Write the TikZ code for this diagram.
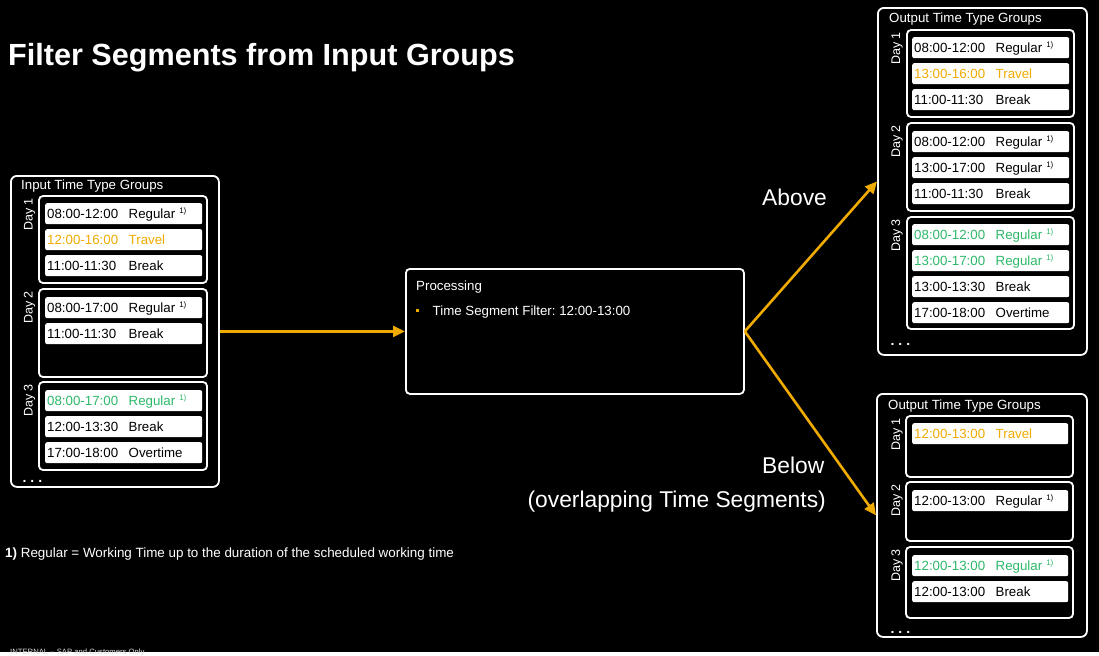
\documentclass[tikz,border=0pt]{standalone}
\usepackage{fontspec}
\setmainfont{Liberation Sans}
\usepackage{xcolor}
\usetikzlibrary{arrows.meta,positioning}
\definecolor{sapgold}{RGB}{240,171,0}
\definecolor{sapgreen}{RGB}{45,185,105}
\newcommand{\supone}{\hspace{4pt}\raisebox{0.42em}{\fontsize{8}{8}\selectfont 1)}}
\newcommand{\seg}[2]{\makebox[81.5pt][l]{#1}#2}
\frenchspacing

\begin{document}
\begin{tikzpicture}[
    x=1pt, y=-1pt,
    every node/.style={text=white, inner sep=0pt, font=\fontsize{13.3}{15}\selectfont},
    outer/.style={draw=white, line width=1.8pt, rounded corners=6pt, anchor=north west},
    grp/.style={draw=white, line width=1.8pt, rounded corners=4pt},
    row/.style={fill=white, text=black, rounded corners=2pt, anchor=north west, minimum height=21, text width=153pt, inner xsep=2pt, align=left, text height=11pt, text depth=1pt},
    daylbl/.style={rotate=90, anchor=east, font=\fontsize{12.5}{14}\selectfont},
    hdr/.style={anchor=base west},
    dots/.style={anchor=base west, font=\bfseries\fontsize{14}{14}\selectfont},
    big/.style={font=\fontsize{22.8}{26}\selectfont},
    flow/.style={draw=sapgold, line width=2.6pt, -{Triangle[length=12pt,width=11pt]}}
]

% background and page size
\fill[black] (0,0) rectangle (1099,652);

\node[anchor=base west, font=\bfseries\fontsize{30.6}{34}\selectfont] (title) at (8,65) {Filter Segments from Input Groups};

% input groups
\node[outer, minimum width=208, minimum height=311] (inbox) at (10,175) {};
\node[hdr] (inhdr) at (21,189) {Input Time Type Groups};
\draw[grp] (39,196) rectangle (207,283);
\draw[grp] (39,289) rectangle (207,377);
\draw[grp] (39,382) rectangle (207,470);
\node[daylbl] (inday1) at (29.5,198) {Day 1};
\node[daylbl] (inday2) at (29.5,291) {Day 2};
\node[daylbl] (inday3) at (29.5,384) {Day 3};
\node[row] (in11) at (45,203) {\seg{08:00-12:00}{Regular\supone}};
\node[row, text=sapgold] (in12) at (45,229) {\seg{12:00-16:00}{Travel}};
\node[row] (in13) at (45,255) {\seg{11:00-11:30}{Break}};
\node[row] (in21) at (45,297) {\seg{08:00-17:00}{Regular\supone}};
\node[row] (in22) at (45,323) {\seg{11:00-11:30}{Break}};
\node[row, text=sapgreen] (in31) at (45,390) {\seg{08:00-17:00}{Regular\supone}};
\node[row] (in32) at (45,416) {\seg{12:00-13:30}{Break}};
\node[row] (in33) at (45,442) {\seg{17:00-18:00}{Overtime}};
\node[dots] (indots) at (22.5,482) {. . .};

% processing
\node[outer, rounded corners=4pt, minimum width=338, minimum height=125] (proc) at (405,268) {};
\node[hdr] (prochdr) at (416,290) {Processing};
\node[hdr] (procitem) at (416,315) {\textcolor{sapgold}{\rule[3pt]{3pt}{3pt}}\hspace{13.5pt}Time Segment Filter: 12:00-13:00};

% output above
\node[outer, minimum width=209, minimum height=347] (outA) at (877,7) {};
\node[hdr] (outAhdr) at (889,22.5) {Output Time Type Groups};
\draw[grp] (907,30) rectangle (1074,117);
\draw[grp] (907,123) rectangle (1074,211);
\draw[grp] (907,217) rectangle (1074,329);
\node[daylbl] (aday1) at (897,32) {Day 1};
\node[daylbl] (aday2) at (897,125) {Day 2};
\node[daylbl] (aday3) at (897,219) {Day 3};
\node[row] (a11) at (912,37) {\seg{08:00-12:00}{Regular\supone}};
\node[row, text=sapgold] (a12) at (912,63) {\seg{13:00-16:00}{Travel}};
\node[row] (a13) at (912,89) {\seg{11:00-11:30}{Break}};
\node[row] (a21) at (912,131) {\seg{08:00-12:00}{Regular\supone}};
\node[row] (a22) at (912,157) {\seg{13:00-17:00}{Regular\supone}};
\node[row] (a23) at (912,183) {\seg{11:00-11:30}{Break}};
\node[row, text=sapgreen] (a31) at (912,224) {\seg{08:00-12:00}{Regular\supone}};
\node[row, text=sapgreen] (a32) at (912,250) {\seg{13:00-17:00}{Regular\supone}};
\node[row] (a33) at (912,276) {\seg{13:00-13:30}{Break}};
\node[row] (a34) at (912,302) {\seg{17:00-18:00}{Overtime}};
\node[dots] (adots) at (890.5,345) {. . .};

% output below
\node[outer, minimum width=210, minimum height=243] (outB) at (876,393) {};
\node[hdr] (outBhdr) at (888,409) {Output Time Type Groups};
\draw[grp] (906,416) rectangle (1073,477);
\draw[grp] (906,482) rectangle (1073,541);
\draw[grp] (906,547) rectangle (1073,618);
\node[daylbl] (bday1) at (897,418) {Day 1};
\node[daylbl] (bday2) at (897,484) {Day 2};
\node[daylbl] (bday3) at (897,549) {Day 3};
\node[row, text width=152pt, text=sapgold] (b11) at (912,423) {\seg{12:00-13:00}{Travel}};
\node[row, text width=152pt] (b21) at (912,490) {\seg{12:00-13:00}{Regular\supone}};
\node[row, text width=152pt, text=sapgreen] (b31) at (912,555) {\seg{12:00-13:00}{Regular\supone}};
\node[row, text width=152pt] (b32) at (912,581) {\seg{12:00-13:00}{Break}};
\node[dots] (bdots) at (890.5,633) {. . .};

% connectors
\draw[flow] (inbox.east) -- (proc.west);
\draw[flow] (proc.east) -- (outA.west);
\draw[flow] (proc.east) -- (outB.west);
\node[big, anchor=base west] (above) at (762,205) {Above};
\node[big, anchor=base west] (below) at (762,473) {Below};
\node[big, anchor=base east] (overlap) at (826,507) {(overlapping Time Segments)};

% footnote
\node[hdr, font=\fontsize{13.4}{15}\selectfont] (note) at (5,557) {\textbf{1)} Regular = Working Time up to the duration of the scheduled working time};
\node[hdr, font=\fontsize{7.7}{9}\selectfont, text=white!85!black] (internal) at (10,654) {INTERNAL -- SAP and Customers Only};

\end{tikzpicture}
\end{document}
